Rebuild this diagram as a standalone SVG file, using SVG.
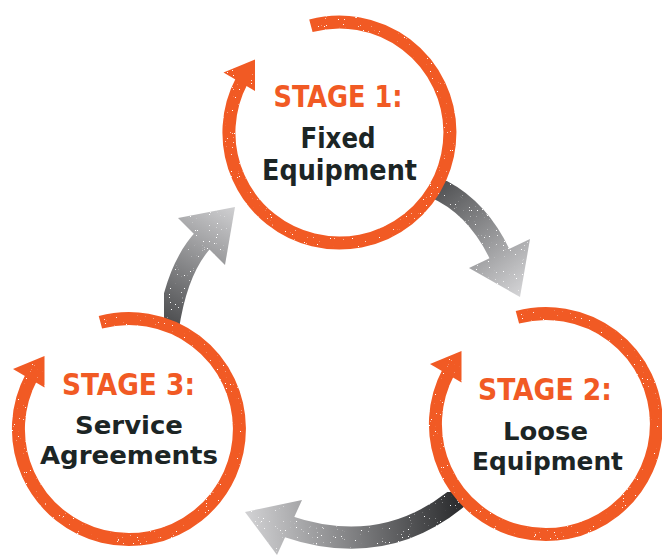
<svg xmlns="http://www.w3.org/2000/svg" xmlns:xlink="http://www.w3.org/1999/xlink" width="662" height="556" viewBox="0 0 662 556">
<style>
.ring{fill:none;stroke:#F15A24;stroke-width:13;stroke-linecap:butt}
.head{fill:#F15A24}
.stg{font-family:"DejaVu Sans Condensed","DejaVu Sans",sans-serif;font-stretch:condensed;font-weight:bold;font-size:30px;fill:#F15A24;text-anchor:middle}
.lbl{font-family:"DejaVu Sans Condensed","DejaVu Sans",sans-serif;font-stretch:condensed;font-weight:bold;font-size:27.5px;fill:#1C2525;text-anchor:middle}
.lbs{font-size:25.5px}
.shaft{fill:none;stroke-width:22;stroke-linecap:butt}
</style>
<defs>
<filter id="grain" x="-5%" y="-5%" width="110%" height="110%" color-interpolation-filters="sRGB">
<feTurbulence type="fractalNoise" baseFrequency="0.85" numOctaves="2" seed="7" result="noise"/>
<feColorMatrix in="noise" type="matrix" values="0 0 0 0 1 0 0 0 0 1 0 0 0 0 1 20 0 0 0 -14.6" result="dots"/>
<feComposite in="dots" in2="SourceGraphic" operator="in" result="spk"/>
<feMerge><feMergeNode in="SourceGraphic"/><feMergeNode in="spk"/></feMerge>
</filter>
<g id="ring">
<path class="ring" d="M -28.6 -106.7 A 110.5 110.5 0 1 1 -97.6 -51.9"/>
<polygon class="head" points="-116,-60 -84.5,-73 -84.5,-41.5"/>
</g>
<linearGradient id="g1" gradientUnits="userSpaceOnUse" x1="434" y1="187" x2="522" y2="297">
<stop offset="0" stop-color="#4F5052"/><stop offset="1" stop-color="#D6D6D8"/>
</linearGradient>
<linearGradient id="g2" gradientUnits="userSpaceOnUse" x1="168" y1="328" x2="235" y2="207">
<stop offset="0" stop-color="#48494B"/><stop offset="1" stop-color="#D0D0D2"/>
</linearGradient>
<linearGradient id="g3" gradientUnits="userSpaceOnUse" x1="455" y1="500" x2="250" y2="520">
<stop offset="0" stop-color="#2E2F31"/><stop offset="1" stop-color="#CFCFD1"/>
</linearGradient>
</defs>
<g id="connectors">
<g id="arrow-1-2" filter="url(#grain)">
<path class="shaft" stroke="url(#g1)" d="M 434 187 Q 478 206 502 259"/>
<polygon fill="url(#g1)" points="469,268 530,239 520,297"/>
</g>
<g id="arrow-3-1" filter="url(#grain)">
<path class="shaft" stroke="url(#g2)" d="M 168 328 Q 177 267 205 238"/>
<polygon fill="url(#g2)" points="178,218 225,265 235,207"/>
</g>
<g id="arrow-2-3" filter="url(#grain)">
<path class="shaft" stroke="url(#g3)" d="M 461 495 Q 385 560 286 526"/>
<polygon fill="url(#g3)" points="302,500 277,555 245,512"/>
</g>
</g>
<g id="stage1">
<use xlink:href="#ring" href="#ring" transform="translate(339.5,132.5)" filter="url(#grain)"/>
<text class="stg" x="338" y="107" textLength="129" lengthAdjust="spacingAndGlyphs">STAGE 1:</text>
<text class="lbl" x="338" y="148" textLength="75" lengthAdjust="spacingAndGlyphs">Fixed</text>
<text class="lbl" x="339.5" y="180" textLength="155" lengthAdjust="spacingAndGlyphs">Equipment</text>
</g>
<g id="stage2">
<use xlink:href="#ring" href="#ring" transform="translate(546,424)" filter="url(#grain)"/>
<text class="stg" x="545" y="400" textLength="134" lengthAdjust="spacingAndGlyphs">STAGE 2:</text>
<text class="lbl lbs" x="545.5" y="440" textLength="85" lengthAdjust="spacingAndGlyphs">Loose</text>
<text class="lbl lbs" x="547.5" y="470" textLength="151" lengthAdjust="spacingAndGlyphs">Equipment</text>
</g>
<g id="stage3">
<use xlink:href="#ring" href="#ring" transform="translate(129,429)" filter="url(#grain)"/>
<text class="stg" x="128.5" y="395" textLength="133" lengthAdjust="spacingAndGlyphs">STAGE 3:</text>
<text class="lbl lbs" x="129" y="434" textLength="108" lengthAdjust="spacingAndGlyphs">Service</text>
<text class="lbl lbs" x="129" y="464" textLength="178" lengthAdjust="spacingAndGlyphs">Agreements</text>
</g>
</svg>
